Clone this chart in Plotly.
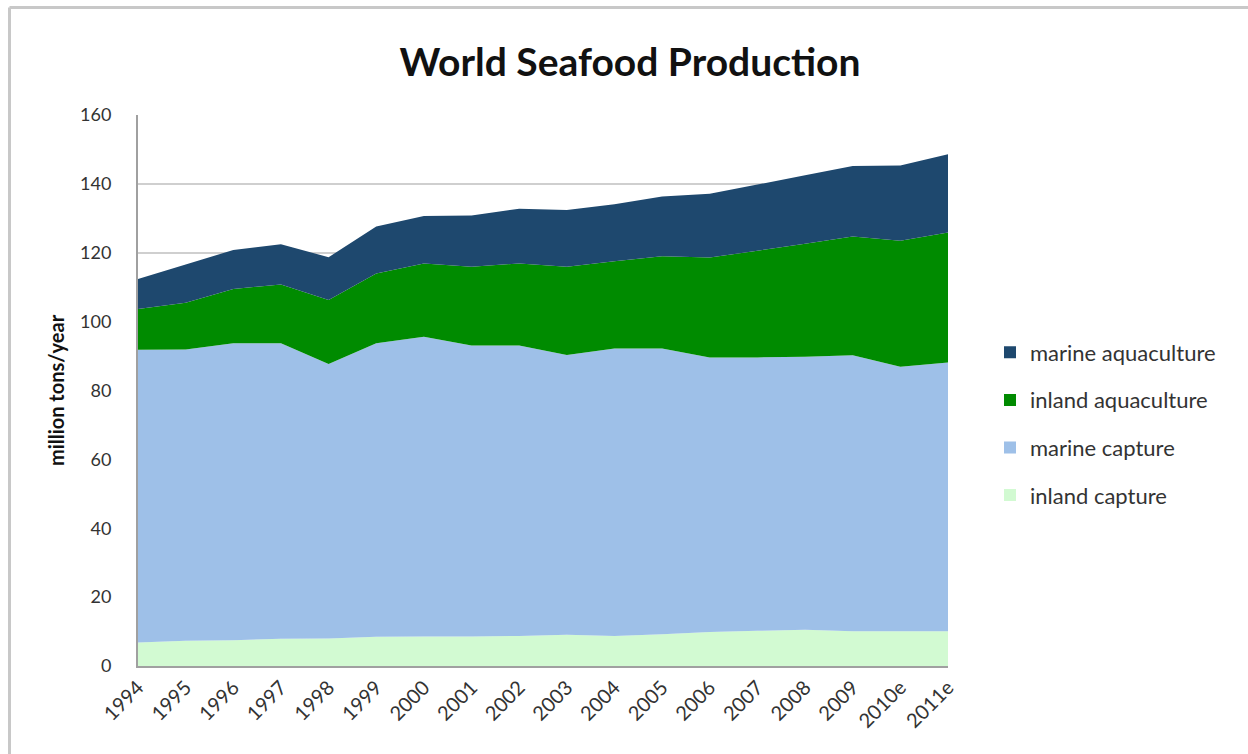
import plotly.graph_objects as go

years = ["1994", "1995", "1996", "1997", "1998", "1999", "2000", "2001", "2002",
         "2003", "2004", "2005", "2006", "2007", "2008", "2009", "2010e", "2011e"]

inland_capture = [6.8, 7.3, 7.5, 7.9, 8.0, 8.5, 8.6, 8.6, 8.7,
                  9.1, 8.7, 9.2, 9.9, 10.2, 10.5, 10.1, 10.1, 10.1]
marine_capture = [85.0, 84.6, 86.2, 85.8, 79.7, 85.2, 87.0, 84.5, 84.4,
                  81.2, 83.5, 83.0, 79.7, 79.4, 79.3, 80.1, 76.8, 78.0]
inland_aquaculture = [11.9, 13.6, 15.8, 17.1, 18.6, 20.3, 21.3, 22.8, 23.8,
                      25.6, 25.3, 26.8, 29.0, 31.0, 32.8, 34.5, 36.6, 37.8]
marine_aquaculture = [8.7, 11.1, 11.3, 11.7, 12.4, 13.6, 13.8, 14.9, 15.9,
                      16.5, 16.6, 17.3, 18.5, 19.2, 19.9, 20.5, 21.8, 22.7]

series = [
    ("inland capture", inland_capture, "#d2fad2"),
    ("marine capture", marine_capture, "#9ec0e8"),
    ("inland aquaculture", inland_aquaculture, "#008b00"),
    ("marine aquaculture", marine_aquaculture, "#1e486e"),
]

FONT = "Lato, Calibri, Carlito, sans-serif"

fig = go.Figure()
for name, vals, col in series:
    fig.add_trace(go.Scatter(
        x=years, y=vals, name=name, stackgroup="one", mode="none",
        fillcolor=col, showlegend=False, hoverinfo="x+y+name"))

# legend entries (square swatches), top-to-bottom order as in the reference
for name, vals, col in reversed(series):
    fig.add_trace(go.Scatter(
        x=[None], y=[None], name=name, mode="markers",
        marker=dict(symbol="square", size=12, color=col),
        legendgroup=name, showlegend=True))

L, R, T, B = 138, 948, 115, 666
W, H = 1248, 754

def px_x(p):
    return (p - L) / (R - L)

def px_y(p):
    return (B - p) / (B - T)

fig.update_layout(
    width=W, height=H,
    margin=dict(l=L, r=W - R, t=T, b=H - B),
    paper_bgcolor="white", plot_bgcolor="white",
    font=dict(family=FONT, size=18, color="#333333"),
    title=dict(text="<b>World Seafood Production</b>",
               font=dict(family=FONT, size=39, color="#111111"),
               x=px_x(630), xref="paper", xanchor="center",
               y=1 - 62 / H, yref="container", yanchor="middle"),
    xaxis=dict(type="category", range=[0, len(years) - 1],
               tickangle=-45, showgrid=False,
               showline=True, linecolor="#a0a0a0", linewidth=2,
               ticks="", tickfont=dict(size=20, color="#333333"),
               fixedrange=True),
    yaxis=dict(range=[0, 160], dtick=20, showgrid=True,
               gridcolor="#cfcfcf", gridwidth=2,
               showline=True, linecolor="#a0a0a0", linewidth=2,
               zeroline=False, ticks="", ticklabelstandoff=21,
               tickfont=dict(size=18, color="#333333"),
               title=dict(text="<b>million tons/year</b>",
                          font=dict(size=20, color="#111111"), standoff=10),
               fixedrange=True),
    legend=dict(x=px_x(990), xanchor="left", y=px_y(424), yanchor="middle",
                traceorder="grouped", tracegroupgap=16,
                font=dict(size=22, color="#333333"),
                itemsizing="constant", bgcolor="rgba(0,0,0,0)"),
    shapes=[
        dict(type="line", xref="paper", yref="paper",
             x0=px_x(9.5), x1=px_x(9.5), y0=px_y(7.5), y1=px_y(800),
             line=dict(color="#c8c8c8", width=3)),
        dict(type="line", xref="paper", yref="paper",
             x0=px_x(9.5), x1=px_x(1300), y0=px_y(7.5), y1=px_y(7.5),
             line=dict(color="#c8c8c8", width=3)),
    ],
)

fig.write_html("out.html")
